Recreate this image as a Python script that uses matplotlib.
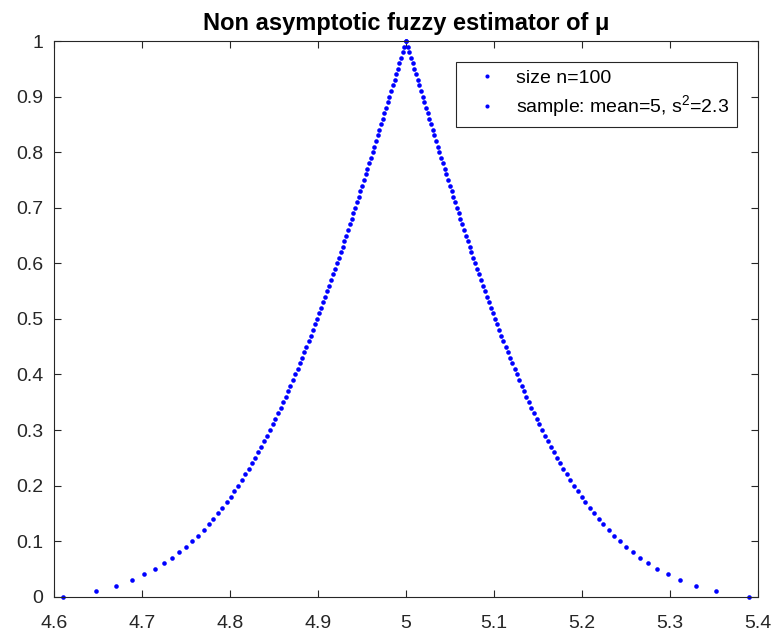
import matplotlib.pyplot as plt
from matplotlib.ticker import FuncFormatter

plt.rcParams['font.family'] = ['Liberation Sans', 'DejaVu Sans']
plt.rcParams['mathtext.default'] = 'regular'

# membership levels (alpha-cuts)
levels = [0.00, 0.01, 0.02, 0.03, 0.04, 0.05, 0.06, 0.07, 0.08, 0.09,
          0.10, 0.11, 0.12, 0.13, 0.14, 0.15, 0.16, 0.17, 0.18, 0.19,
          0.20, 0.21, 0.22, 0.23, 0.24, 0.25, 0.26, 0.27, 0.28, 0.29,
          0.30, 0.31, 0.32, 0.33, 0.34, 0.35, 0.36, 0.37, 0.38, 0.39,
          0.40, 0.41, 0.42, 0.43, 0.44, 0.45, 0.46, 0.47, 0.48, 0.49,
          0.50, 0.51, 0.52, 0.53, 0.54, 0.55, 0.56, 0.57, 0.58, 0.59,
          0.60, 0.61, 0.62, 0.63, 0.64, 0.65, 0.66, 0.67, 0.68, 0.69,
          0.70, 0.71, 0.72, 0.73, 0.74, 0.75, 0.76, 0.77, 0.78, 0.79,
          0.80, 0.81, 0.82, 0.83, 0.84, 0.85, 0.86, 0.87, 0.88, 0.89,
          0.90, 0.91, 0.92, 0.93, 0.94, 0.95, 0.96, 0.97, 0.98, 0.99,
          1.00]

# left ends of the alpha-cuts
left_x = [4.6094, 4.6469, 4.6705, 4.6881, 4.7022, 4.7142, 4.7246, 4.7339, 4.7422, 4.7499,
          4.7569, 4.7635, 4.7697, 4.7755, 4.7810, 4.7862, 4.7911, 4.7959, 4.8004, 4.8048,
          4.8091, 4.8131, 4.8171, 4.8209, 4.8247, 4.8283, 4.8318, 4.8352, 4.8386, 4.8419,
          4.8451, 4.8482, 4.8513, 4.8543, 4.8573, 4.8602, 4.8630, 4.8658, 4.8686, 4.8713,
          4.8740, 4.8766, 4.8792, 4.8818, 4.8843, 4.8868, 4.8893, 4.8918, 4.8942, 4.8965,
          4.8989, 4.9013, 4.9036, 4.9059, 4.9081, 4.9104, 4.9126, 4.9148, 4.9170, 4.9192,
          4.9214, 4.9235, 4.9256, 4.9278, 4.9298, 4.9319, 4.9340, 4.9361, 4.9381, 4.9402,
          4.9422, 4.9442, 4.9462, 4.9482, 4.9502, 4.9522, 4.9542, 4.9561, 4.9581, 4.9601,
          4.9620, 4.9640, 4.9659, 4.9678, 4.9697, 4.9716, 4.9736, 4.9755, 4.9774, 4.9793,
          4.9812, 4.9831, 4.9850, 4.9869, 4.9888, 4.9906, 4.9925, 4.9944, 4.9963, 4.9981,
          5.0000]

# right ends of the alpha-cuts
right_x = [5.3906, 5.3531, 5.3295, 5.3119, 5.2978, 5.2858, 5.2754, 5.2661, 5.2578, 5.2501,
           5.2431, 5.2365, 5.2303, 5.2245, 5.2190, 5.2138, 5.2089, 5.2041, 5.1996, 5.1952,
           5.1909, 5.1869, 5.1829, 5.1791, 5.1753, 5.1717, 5.1682, 5.1648, 5.1614, 5.1581,
           5.1549, 5.1518, 5.1487, 5.1457, 5.1427, 5.1398, 5.1370, 5.1342, 5.1314, 5.1287,
           5.1260, 5.1234, 5.1208, 5.1182, 5.1157, 5.1132, 5.1107, 5.1082, 5.1058, 5.1035,
           5.1011, 5.0987, 5.0964, 5.0941, 5.0919, 5.0896, 5.0874, 5.0852, 5.0830, 5.0808,
           5.0786, 5.0765, 5.0744, 5.0722, 5.0702, 5.0681, 5.0660, 5.0639, 5.0619, 5.0598,
           5.0578, 5.0558, 5.0538, 5.0518, 5.0498, 5.0478, 5.0458, 5.0439, 5.0419, 5.0399,
           5.0380, 5.0360, 5.0341, 5.0322, 5.0303, 5.0284, 5.0264, 5.0245, 5.0226, 5.0207,
           5.0188, 5.0169, 5.0150, 5.0131, 5.0112, 5.0094, 5.0075, 5.0056, 5.0037, 5.0019,
           5.0000]

x_ticks = [4.6, 4.7, 4.8, 4.9, 5.0, 5.1, 5.2, 5.3, 5.4]
y_ticks = [0, 0.1, 0.2, 0.3, 0.4, 0.5, 0.6, 0.7, 0.8, 0.9, 1]

dark = '#262626'

fig = plt.figure(figsize=(7.75, 6.35), dpi=100)
ax = fig.add_axes([0.0701, 0.0603, 0.9076, 0.8751])

ax.plot(left_x, levels, 'o', color='b', ms=3.3, mew=0, clip_on=False, label='size n=100')
ax.plot(right_x, levels, 'o', color='b', ms=3.3, mew=0, clip_on=False,
        label='sample: mean=5, s$^2$=2.3')

ax.set_xlim(4.6, 5.4)
ax.set_ylim(0, 1)
ax.set_xticks(x_ticks)
ax.set_yticks(y_ticks)
fmt = FuncFormatter(lambda v, p: '%g' % round(v, 2))
ax.xaxis.set_major_formatter(fmt)
ax.yaxis.set_major_formatter(fmt)

ax.tick_params(direction='in', length=5, width=0.8, color=dark, labelcolor=dark,
               labelsize=14, top=True, right=True)
ax.tick_params(axis='x', pad=13)
ax.tick_params(axis='y', pad=8)
for s in ax.spines.values():
    s.set_color(dark)
    s.set_linewidth(0.8)

ax.set_title('Non asymptotic fuzzy estimator of μ', fontsize=17, fontweight='bold', pad=8)

leg = ax.legend(loc='upper right', bbox_to_anchor=(0.9701, 0.9627), borderaxespad=0,
                fontsize=14, fancybox=False, framealpha=1, edgecolor=dark,
                handlelength=2.4, handletextpad=0.3, borderpad=0.38, labelspacing=0.35,
                markerscale=0.9)
leg.get_frame().set_linewidth(0.8)

fig.savefig('out.png', dpi=100)
